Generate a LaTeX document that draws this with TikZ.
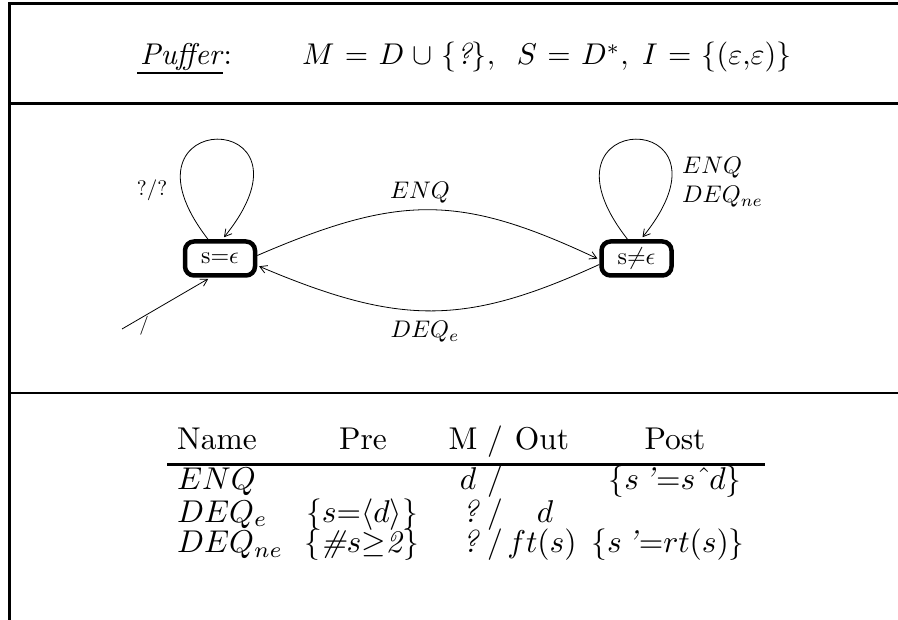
\RequirePackage{fix-cm}
\documentclass[tikz,border=0pt]{standalone}
\usepackage{amssymb}
\usepackage{graphicx}
\usetikzlibrary{calc,arrows.meta}
\newcommand\tabT[1]{\scalebox{3.15}{#1}}
\newcommand\lblT[1]{\scalebox{2.4}{#1}}
\newcommand\stT[1]{\scalebox{2.4}{#1}}
\newcommand\ttlT[1]{\scalebox{3.0}{#1}}
\newcommand\eqsp{\mskip1.2mu}
\begin{document}
\begin{tikzpicture}[x=1pt,y=-1pt,
  frame/.style={line width=3pt},
  state/.style={draw,line width=4.5pt,rounded corners=9pt,minimum width=70pt,minimum height=34pt,inner sep=0pt},
  edge/.style={line width=0.8pt,-{Straight Barb[length=7pt,width=8pt]}},
  lbl/.style={inner sep=0pt},
  tab/.style={inner sep=0pt,anchor=base},
  ttl/.style={inner sep=0pt,anchor=base west},
]
\useasboundingbox (0,0) rectangle (898,620);
\draw[frame] (9.5,620) -- (9.5,3.5) -- (898,3.5);
\draw[frame] (9.5,103.5) -- (898,103.5);
\draw[line width=2pt] (9.5,393) -- (898,393);

% title
\node[ttl] (title) at (140,65) {\ttlT{\textit{Puffer}:}};
\draw[line width=2.5pt] (137,73) -- (223,73);
\node[ttl] (sig) at (302,65) {\ttlT{$M \eqsp=\eqsp D \eqsp\cup\eqsp \{\textit{?}\},\;\; S \eqsp=\eqsp D^*,\; I \eqsp=\eqsp \{(\varepsilon{,}\varepsilon)\}$}};

% states
\node[state] (s0) at (220,258.5) {\stT{$\mathrm{s}{=}\epsilon$}};
\node[state] (s1) at (636.5,258.5) {\stT{$\mathrm{s}{\neq}\epsilon$}};
\coordinate (init) at (122,329);

\draw[edge] ($(s0.north)+(-12,0)$) .. controls ($(s0.north)+(-115,-133)$) and ($(s0.north)+(110,-133)$) .. ($(s0.north)+(4,-2)$);
\draw[edge] ($(s1.north)+(-9,0)$) .. controls ($(s1.north)+(-113,-133)$) and ($(s1.north)+(112,-133)$) .. ($(s1.north)+(6,-2)$);
\draw[edge,shorten >=2pt] ($(s0.east)+(0,-3)$) .. controls (400,194) and (460,194) .. ($(s1.west)+(0,1)$);
\draw[edge,shorten >=2pt] ($(s1.west)+(0,6)$) .. controls (465,326) and (400,326) .. ($(s0.east)+(0,7)$);
\draw[edge,shorten >=2pt] (init) -- ($(s0.south)+(-10,0)$);

\node[lbl] (l00) at (152,190) {\scalebox{2.1}{?/?}};
\node[lbl] (lenq) at (420,193) {\lblT{$ENQ$}};
\node[lbl] (ldeqe) at (425,332) {\lblT{$DEQ_e$}};
\node[lbl,anchor=west] (lr1) at (682,168) {\lblT{$ENQ$}};
\node[lbl,anchor=west] (lr2) at (682,197) {\lblT{$DEQ_{ne}$}};
\node[lbl] (linit) at (144,326) {\scalebox{1.9}{/}};

% table
\node[tab,anchor=base west] (hname) at (177,450) {\tabT{Name}};
\node[tab] (hpre) at (363,450) {\tabT{Pre}};
\node[tab] (hm) at (463,450) {\tabT{M}};
\node[tab] (hsl) at (495,450) {\tabT{/}};
\node[tab] (hout) at (542,450) {\tabT{Out}};
\node[tab] (hpost) at (675,450) {\tabT{Post}};
\draw[line width=3pt] (167,465) -- (765,465);

\node[tab,anchor=base west] (n1) at (177,490) {\tabT{$ENQ$}};
\node[tab] (m1) at (468,490) {\tabT{$d$}};
\node[tab] (sl1) at (495,490) {\tabT{/}};
\node[tab] (p1) at (675,490) {\tabT{$\{s$\,\textit{'}${=}s\;\hat{}\,d\}$}};

\node[tab,anchor=base west] (n2) at (177,522) {\tabT{$DEQ_e$}};
\node[tab] (pre2) at (362,522) {\tabT{$\{s{=}\langle d\rangle\}$}};
\node[tab] (m2) at (471,522) {\tabT{\textit{?}}};
\node[tab] (sl2) at (495,522) {\tabT{/}};
\node[tab] (o2) at (545,522) {\tabT{$d$}};

\node[tab,anchor=base west] (n3) at (177,553) {\tabT{$DEQ_{ne}$}};
\node[tab] (pre3) at (362,553) {\tabT{$\{$\textit{\#}$s{\geq}$\textit{2}$\}$}};
\node[tab] (m3) at (471,553) {\tabT{\textit{?}}};
\node[tab] (sl3) at (495,553) {\tabT{/}};
\node[tab] (o3) at (542,553) {\tabT{$ft(s)$}};
\node[tab] (p3) at (668,553) {\tabT{$\{s$\,\textit{'}${=}rt(s)\}$}};
\end{tikzpicture}
\end{document}
